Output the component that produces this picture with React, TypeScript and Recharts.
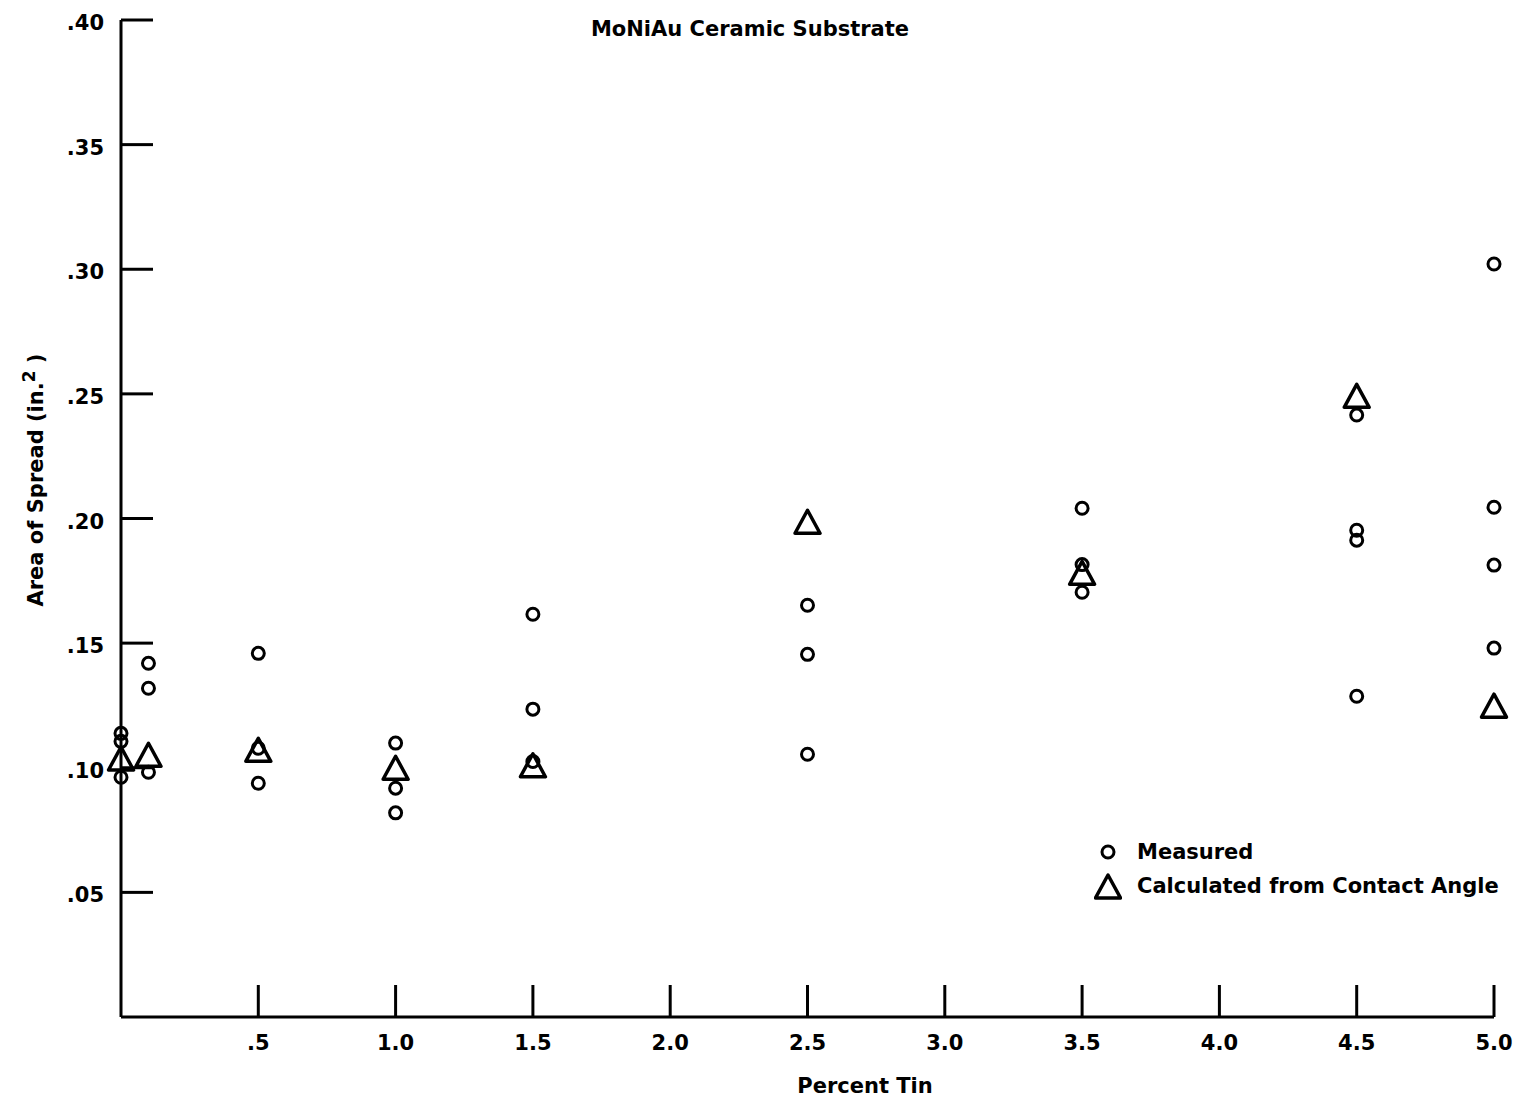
import React from 'react';
import { ScatterChart, Scatter, XAxis, YAxis } from 'recharts';

// Measured points (circles)
const measuredX = [0, 0, 0, 0.1, 0.1, 0.1, 0.5, 0.5, 0.5, 1.0, 1.0, 1.0, 1.5, 1.5, 1.5, 2.5, 2.5, 2.5, 3.5, 3.5, 3.5, 4.5, 4.5, 4.5, 4.5, 5.0, 5.0, 5.0, 5.0];
const measuredY = [0.1138, 0.1106, 0.0962, 0.1419, 0.1319, 0.0982, 0.1459, 0.1078, 0.0938, 0.1099, 0.0918, 0.0819, 0.1616, 0.1235, 0.1025, 0.1652, 0.1455, 0.1054, 0.2041, 0.1815, 0.1704, 0.2415, 0.1953, 0.1913, 0.1287, 0.3021, 0.2045, 0.1813, 0.148];

// Calculated from contact angle (triangles)
const calcX = [0, 0.1, 0.5, 1.0, 1.5, 2.5, 3.5, 4.5, 5.0];
const calcY = [0.1035, 0.105, 0.107, 0.0998, 0.1008, 0.1985, 0.178, 0.249, 0.1247];

const xTicks = [0.5, 1.0, 1.5, 2.0, 2.5, 3.0, 3.5, 4.0, 4.5, 5.0];
const xTickLabels = ['.5', '1.0', '1.5', '2.0', '2.5', '3.0', '3.5', '4.0', '4.5', '5.0'];
const yTicks = [0.05, 0.1, 0.15, 0.2, 0.25, 0.3, 0.35, 0.4];
const yTickLabels = ['.05', '.10', '.15', '.20', '.25', '.30', '.35', '.40'];

const measured = measuredX.map((x, i) => ({ x, y: measuredY[i] }));
const calculated = calcX.map((x, i) => ({ x, y: calcY[i] }));

const FONT = '"DejaVu Sans", Verdana, sans-serif';

const labelFor = (v: number, ticks: number[], labels: string[]) => {
  const i = ticks.findIndex((t) => Math.abs(t - v) < 1e-6);
  return i >= 0 ? labels[i] : '';
};

const XTick = ({ x, y, payload }: any) => (
  <g>
    <line x1={x} x2={x} y1={y} y2={y - 32} stroke="#000" strokeWidth={3} />
    <text x={x} y={y + 33} textAnchor="middle" fontFamily={FONT} fontWeight="bold" fontSize={21} fill="#000">
      {labelFor(payload.value, xTicks, xTickLabels)}
    </text>
  </g>
);

const YTick = ({ x, y, payload }: any) => (
  <g>
    <line x1={x} x2={x + 32} y1={y} y2={y} stroke="#000" strokeWidth={3} />
    <text x={x - 17} y={y + 10} textAnchor="end" fontFamily={FONT} fontWeight="bold" fontSize={21} fill="#000">
      {labelFor(payload.value, yTicks, yTickLabels)}
    </text>
  </g>
);

const CircleShape = ({ cx, cy }: any) => (
  <circle cx={cx} cy={cy} r={6} fill="none" stroke="#000" strokeWidth={3} />
);

const TriangleShape = ({ cx, cy }: any) => (
  <polygon
    points={`${cx},${cy - 12} ${cx + 12.5},${cy + 11} ${cx - 12.5},${cy + 11}`}
    fill="none"
    stroke="#000"
    strokeWidth={3.5}
    strokeLinejoin="round"
  />
);

const textStyle: React.CSSProperties = {
  position: 'absolute',
  fontFamily: FONT,
  fontWeight: 'bold',
  fontSize: 21,
  color: '#000',
  whiteSpace: 'nowrap',
};

export default function App() {
  return (
    <div style={{ position: 'absolute', left: 0, top: 0, width: 1518, height: 1102, background: '#fff' }}>
      <ScatterChart width={1518} height={1102} margin={{ top: 20, right: 24, bottom: 35, left: 0 }}>
        <XAxis
          type="number"
          dataKey="x"
          domain={[0, 5]}
          ticks={xTicks}
          interval={0}
          height={50}
          tickSize={0}
          tickMargin={0}
          tickLine={false}
          tick={<XTick />}
          axisLine={{ stroke: '#000', strokeWidth: 3 }}
        />
        <YAxis
          type="number"
          dataKey="y"
          domain={[0, 0.4]}
          ticks={yTicks}
          interval={0}
          width={121}
          tickSize={0}
          tickMargin={0}
          tickLine={false}
          tick={<YTick />}
          axisLine={{ stroke: '#000', strokeWidth: 3 }}
        />
        <Scatter name="Measured" data={measured} shape={<CircleShape />} isAnimationActive={false} />
        <Scatter name="Calculated from Contact Angle" data={calculated} shape={<TriangleShape />} isAnimationActive={false} />
      </ScatterChart>

      <div style={{ ...textStyle, left: 500, width: 500, top: 17, textAlign: 'center' }}>MoNiAu Ceramic Substrate</div>
      <div style={{ ...textStyle, left: 715, width: 300, top: 1074, textAlign: 'center' }}>Percent Tin</div>
      <div
        style={{
          ...textStyle,
          left: 32,
          top: 480,
          width: 320,
          textAlign: 'center',
          lineHeight: '26px',
          transform: 'translate(-50%, -50%) rotate(-90deg)',
        }}
      >
        Area of Spread (in.<sup style={{ fontSize: 17 }}>2</sup> )
      </div>

      {/* legend */}
      <div style={{ ...textStyle, left: 1094, top: 835, lineHeight: '34px' }}>
        <div style={{ display: 'flex', alignItems: 'center' }}>
          <svg width={28} height={28} style={{ marginRight: 15 }}>
            <circle cx={14} cy={14} r={6} fill="none" stroke="#000" strokeWidth={3} />
          </svg>
          Measured
        </div>
        <div style={{ display: 'flex', alignItems: 'center' }}>
          <svg width={28} height={28} style={{ marginRight: 15 }}>
            <polygon points="14,3 26.5,26 1.5,26" fill="none" stroke="#000" strokeWidth={3.5} strokeLinejoin="round" />
          </svg>
          Calculated from Contact Angle
        </div>
      </div>
    </div>
  );
}
